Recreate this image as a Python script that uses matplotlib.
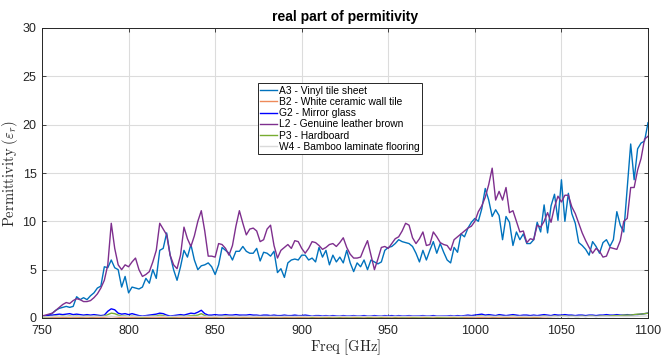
import numpy as np
import matplotlib
matplotlib.use("Agg")
import matplotlib.pyplot as plt

plt.rcParams['font.family'] = ['Liberation Sans', 'DejaVu Sans']
plt.rcParams['mathtext.fontset'] = 'cm'

freq = np.arange(750, 1101, 2)

a3_vinyl = [
    0.2, 0.2, 0.3, 0.5, 0.8, 1.0, 1.1, 1.2, 1.1, 1.2,
    2.2, 1.9, 2.1, 1.9, 2.3, 2.6, 3.1, 3.3, 5.3, 5.2,
    6.0, 5.2, 5.0, 3.2, 4.3, 2.6, 3.2, 3.1, 3.0, 3.2,
    4.1, 3.6, 5.0, 4.1, 7.0, 7.2, 8.8, 6.5, 5.0, 3.9,
    5.3, 7.0, 6.3, 7.6, 6.0, 5.0, 5.4, 5.5, 5.7, 5.3,
    4.5, 5.5, 7.3, 7.0, 6.7, 6.0, 6.9, 6.9, 7.4, 6.9,
    6.7, 6.7, 7.2, 5.9, 6.8, 6.7, 6.4, 6.9, 4.7, 5.1,
    4.2, 5.7, 6.0, 6.1, 6.0, 6.5, 6.5, 6.0, 6.2, 5.8,
    7.3, 6.3, 7.0, 5.5, 6.5, 5.8, 6.3, 5.7, 7.0, 5.7,
    4.8, 5.7, 5.3, 6.0, 5.0, 6.0, 5.8, 5.6, 5.8, 7.0,
    7.3, 7.4, 7.7, 8.1, 7.9, 7.8, 7.7, 7.4, 6.7, 5.8,
    7.0, 6.0, 7.0, 7.9, 6.7, 7.7, 6.8, 6.0, 5.7, 7.3,
    6.8, 8.7, 8.4, 9.3, 9.9, 10.3, 10.0, 11.3, 13.4, 12.2,
    10.5, 11.2, 10.6, 8.1, 10.5, 9.9, 7.5, 8.9, 8.1, 8.7,
    7.7, 7.7, 8.1, 9.9, 8.9, 11.7, 8.8, 11.6, 12.8, 10.1,
    14.3, 10.0, 12.9, 10.8, 9.8, 7.8, 7.5, 7.1, 6.5, 7.9,
    7.4, 6.7, 7.8, 8.1, 7.4, 8.1, 11.0, 9.6, 8.9, 13.5,
    18.0, 14.3, 17.5, 18.1, 18.3, 20.2,
]

l2_leather = [
    0.2, 0.3, 0.4, 0.5, 0.8, 1.1, 1.4, 1.6, 1.5, 1.8,
    2.0, 1.9, 1.7, 1.7, 1.8, 2.1, 2.5, 3.1, 3.9, 5.5,
    9.8, 7.2, 5.5, 5.0, 5.5, 5.3, 5.8, 6.2, 5.0, 4.3,
    4.5, 4.8, 5.8, 7.0, 9.8, 9.2, 8.6, 6.5, 5.5, 5.1,
    6.5, 9.4, 8.2, 7.4, 8.5, 10.0, 11.1, 9.0, 6.4, 6.4,
    6.3, 7.7, 7.6, 7.2, 6.5, 7.5, 9.5, 11.1, 9.8, 8.6,
    9.2, 9.3, 9.0, 7.9, 8.1, 9.2, 9.6, 7.5, 6.2, 7.0,
    7.3, 7.6, 7.2, 8.0, 7.9, 7.2, 6.7, 7.2, 7.9, 7.8,
    7.5, 7.1, 7.3, 7.6, 7.7, 7.4, 7.8, 8.3, 7.3, 6.6,
    6.2, 6.2, 6.3, 7.2, 8.0, 6.5, 5.0, 6.1, 7.3, 7.4,
    7.2, 7.7, 8.2, 8.4, 9.0, 9.8, 9.6, 8.3, 7.7, 8.2,
    8.9, 7.5, 7.6, 8.9, 8.4, 7.8, 7.6, 7.5, 7.0, 8.1,
    8.4, 8.7, 9.0, 9.3, 9.5, 10.0, 11.0, 11.6, 12.5, 13.8,
    15.5, 12.2, 13.1, 12.2, 13.5, 10.9, 11.1, 10.0, 8.9, 9.0,
    7.8, 8.2, 8.1, 9.6, 9.4, 10.0, 10.9, 9.9, 11.5, 12.6,
    12.0, 12.7, 12.7, 11.5, 10.8, 9.8, 8.8, 8.0, 7.3, 6.7,
    7.2, 6.9, 6.3, 6.4, 7.3, 7.2, 7.1, 8.0, 10.0, 10.3,
    13.5, 13.5, 15.3, 16.5, 18.5, 18.8,
]

g2_mirror = [
    0.1, 0.2, 0.3, 0.3, 0.35, 0.4, 0.35, 0.4, 0.45, 0.35,
    0.4, 0.35, 0.3, 0.35, 0.3, 0.35, 0.3, 0.25, 0.3, 0.7,
    0.95, 0.85, 0.5, 0.4, 0.45, 0.35, 0.45, 0.35, 0.25, 0.2,
    0.25, 0.3, 0.35, 0.4, 0.5, 0.45, 0.3, 0.2, 0.25, 0.3,
    0.35, 0.3, 0.4, 0.5, 0.45, 0.6, 0.8, 0.45, 0.3, 0.3,
    0.35, 0.3, 0.3, 0.35, 0.3, 0.3, 0.35, 0.3, 0.3, 0.3,
    0.35, 0.3, 0.3, 0.25, 0.3, 0.3, 0.25, 0.3, 0.25, 0.25,
    0.3, 0.25, 0.25, 0.3, 0.25, 0.25, 0.3, 0.25, 0.2, 0.25,
    0.25, 0.2, 0.25, 0.2, 0.25, 0.2, 0.2, 0.25, 0.2, 0.2,
    0.25, 0.2, 0.2, 0.25, 0.2, 0.2, 0.25, 0.2, 0.2, 0.25,
    0.2, 0.25, 0.2, 0.25, 0.2, 0.2, 0.25, 0.2, 0.2, 0.2,
    0.25, 0.2, 0.2, 0.25, 0.2, 0.2, 0.2, 0.2, 0.25, 0.2,
    0.25, 0.2, 0.25, 0.3, 0.25, 0.3, 0.35, 0.4, 0.3, 0.35,
    0.3, 0.25, 0.35, 0.3, 0.25, 0.3, 0.35, 0.3, 0.25, 0.3,
    0.3, 0.25, 0.3, 0.25, 0.3, 0.35, 0.3, 0.25, 0.35, 0.3,
    0.3, 0.35, 0.3, 0.3, 0.25, 0.3, 0.3, 0.25, 0.3, 0.3,
    0.25, 0.3, 0.3, 0.35, 0.3, 0.3, 0.35, 0.3, 0.3, 0.35,
    0.3, 0.35, 0.35, 0.4, 0.45, 0.5,
]

p3_hardboard = [
    0.05, 0.1, 0.15, 0.15, 0.2, 0.15, 0.2, 0.15, 0.2, 0.15,
    0.2, 0.15, 0.15, 0.2, 0.15, 0.15, 0.2, 0.15, 0.2, 0.35,
    0.5, 0.45, 0.3, 0.2, 0.2, 0.15, 0.2, 0.15, 0.15, 0.1,
    0.15, 0.15, 0.2, 0.2, 0.3, 0.25, 0.15, 0.1, 0.15, 0.15,
    0.2, 0.15, 0.2, 0.25, 0.25, 0.3, 0.45, 0.25, 0.15, 0.15,
    0.15, 0.15, 0.15, 0.2, 0.15, 0.15, 0.15, 0.15, 0.15, 0.15,
    0.15, 0.15, 0.15, 0.15, 0.15, 0.15, 0.15, 0.15, 0.15, 0.15,
    0.15, 0.15, 0.15, 0.15, 0.15, 0.15, 0.15, 0.15, 0.1, 0.15,
    0.15, 0.1, 0.15, 0.1, 0.15, 0.1, 0.1, 0.15, 0.1, 0.1,
    0.15, 0.1, 0.1, 0.15, 0.1, 0.1, 0.15, 0.1, 0.1, 0.15,
    0.1, 0.15, 0.1, 0.15, 0.1, 0.1, 0.15, 0.1, 0.1, 0.1,
    0.15, 0.1, 0.1, 0.15, 0.1, 0.1, 0.1, 0.1, 0.15, 0.1,
    0.15, 0.1, 0.15, 0.15, 0.15, 0.15, 0.2, 0.2, 0.15, 0.2,
    0.15, 0.15, 0.2, 0.15, 0.15, 0.15, 0.2, 0.15, 0.15, 0.15,
    0.15, 0.15, 0.15, 0.15, 0.15, 0.2, 0.15, 0.15, 0.2, 0.15,
    0.2, 0.2, 0.15, 0.2, 0.15, 0.15, 0.2, 0.15, 0.2, 0.2,
    0.15, 0.2, 0.2, 0.2, 0.2, 0.25, 0.25, 0.25, 0.3, 0.3,
    0.3, 0.35, 0.4, 0.4, 0.45, 0.5,
]

b2_ceramic = [0.05] * 10 + [0.08, 0.06, 0.07, 0.05, 0.08, 0.06, 0.07, 0.05, 0.08, 0.12,
    0.15, 0.12, 0.08, 0.06] + [0.07, 0.05] * 13 + [0.06, 0.1, 0.12, 0.08] + \
    [0.06, 0.05, 0.07] * 30 + [0.08, 0.1, 0.12, 0.15, 0.15, 0.18]

w4_bamboo = [0.1, 0.12, 0.14, 0.15] + [0.16, 0.15, 0.17, 0.16] * 42 + [0.18, 0.2, 0.2, 0.22]

series = [
    ("A3 - Vinyl tile sheet", a3_vinyl, "#0072bd"),
    ("B2 - White ceramic wall tile", b2_ceramic, "#ee8a5a"),
    ("G2 - Mirror glass", g2_mirror, "#0000ff"),
    ("L2 - Genuine leather brown", l2_leather, "#7e2f8e"),
    ("P3 - Hardboard", p3_hardboard, "#77ac30"),
    ("W4 - Bamboo laminate flooring", w4_bamboo, "#dadada"),
]

fig = plt.figure(figsize=(6.63, 3.56), dpi=100)
ax = fig.add_axes([42 / 663, (356 - 318) / 356, 606 / 663, 290 / 356])

for label, vals, color in series:
    n = min(len(vals), len(freq))
    ax.plot(freq[:n], vals[:n], color=color, lw=1.0, label=label)

ax.set_xlim(750, 1100)
ax.set_ylim(0, 30)
ax.set_xticks(np.arange(750, 1101, 50))
ax.set_yticks(np.arange(0, 31, 5))
ax.grid(True, color="#dcdcdc", lw=0.8)
ax.set_axisbelow(True)
ax.tick_params(direction="in", top=True, right=True, labelsize=9,
               colors="#262626", length=3, width=0.6)
ax.tick_params(axis="x", pad=5)
ax.tick_params(axis="y", pad=4)
for s in ax.spines.values():
    s.set_color("#262626")
    s.set_linewidth(0.7)

ax.set_title("real part of permitivity", fontsize=10, fontweight="bold", pad=5)
ax.set_xlabel(r"$\mathrm{Freq\ [GHz]}$", fontsize=10.5, labelpad=0, color="#262626")
ax.set_ylabel(r"$\mathrm{Permittivity}\ (\varepsilon_r)$", fontsize=10.5, labelpad=2, color="#262626")

leg = ax.legend(loc="upper left", bbox_to_anchor=(0.356, 0.81), fontsize=7.4,
                frameon=True, fancybox=False, framealpha=1, edgecolor="#262626",
                handlelength=1.6, handletextpad=0.2, labelspacing=0.12,
                borderpad=0.25, borderaxespad=0)
leg.get_frame().set_linewidth(0.7)

fig.savefig("out.png", dpi=100)
